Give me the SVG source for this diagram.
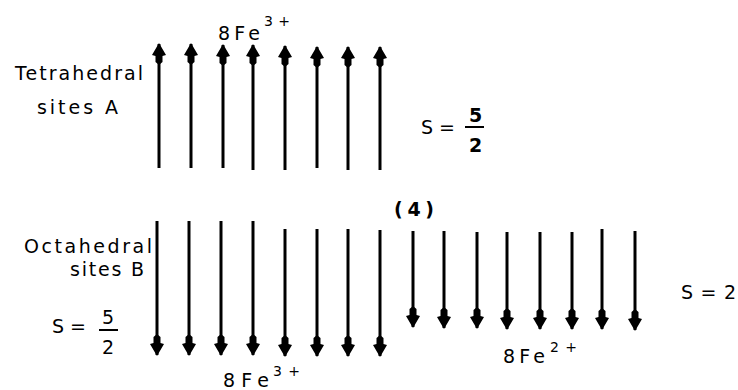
<svg xmlns="http://www.w3.org/2000/svg" width="738" height="390" viewBox="0 0 738 390">
<style>
text{font-family:"DejaVu Sans","Liberation Sans",sans-serif;fill:#000;font-size:19px}
.sup{font-size:14px}
.shaft{stroke:#000;stroke-width:3;fill:none}
.frac{stroke:#000;stroke-width:2}
</style>
<defs>
<marker id="head" markerUnits="userSpaceOnUse" markerWidth="22" markerHeight="16" viewBox="0 0 22 16" refX="21" refY="8" orient="auto">
<path d="M22 8 L10 1 L9 4.5 L3 4.5 L0 8 L3 11.5 L9 11.5 L10 15 Z" fill="#000"/>
</marker>
</defs>
<rect width="738" height="390" fill="#fff"/>
<g id="connectors">
<g id="tetra-arrows">
<line class="shaft" x1="159" y1="168" x2="159" y2="44" marker-end="url(#head)"/>
<line class="shaft" x1="191" y1="168" x2="191" y2="44" marker-end="url(#head)"/>
<line class="shaft" x1="223" y1="168" x2="223" y2="45" marker-end="url(#head)"/>
<line class="shaft" x1="253" y1="170" x2="253" y2="45" marker-end="url(#head)"/>
<line class="shaft" x1="285" y1="170" x2="285" y2="46" marker-end="url(#head)"/>
<line class="shaft" x1="317" y1="168" x2="317" y2="47" marker-end="url(#head)"/>
<line class="shaft" x1="348" y1="170" x2="348" y2="47" marker-end="url(#head)"/>
<line class="shaft" x1="380" y1="170" x2="380" y2="47" marker-end="url(#head)"/>
</g>
<g id="octa-fe3-arrows">
<line class="shaft" x1="157" y1="221" x2="157" y2="355" marker-end="url(#head)"/>
<line class="shaft" x1="189" y1="221" x2="189" y2="355" marker-end="url(#head)"/>
<line class="shaft" x1="221" y1="221" x2="221" y2="355" marker-end="url(#head)"/>
<line class="shaft" x1="253" y1="221" x2="253" y2="355" marker-end="url(#head)"/>
<line class="shaft" x1="285" y1="229" x2="285" y2="356" marker-end="url(#head)"/>
<line class="shaft" x1="317" y1="229" x2="317" y2="356" marker-end="url(#head)"/>
<line class="shaft" x1="348" y1="229" x2="348" y2="356" marker-end="url(#head)"/>
<line class="shaft" x1="380" y1="230" x2="380" y2="356" marker-end="url(#head)"/>
</g>
<g id="octa-fe2-arrows">
<line class="shaft" x1="413" y1="231" x2="413" y2="327" marker-end="url(#head)"/>
<line class="shaft" x1="444" y1="231" x2="444" y2="328" marker-end="url(#head)"/>
<line class="shaft" x1="477" y1="232" x2="477" y2="328" marker-end="url(#head)"/>
<line class="shaft" x1="507" y1="232" x2="507" y2="329" marker-end="url(#head)"/>
<line class="shaft" x1="540" y1="232" x2="540" y2="329" marker-end="url(#head)"/>
<line class="shaft" x1="572" y1="232" x2="572" y2="329" marker-end="url(#head)"/>
<line class="shaft" x1="602" y1="229" x2="602" y2="329" marker-end="url(#head)"/>
<line class="shaft" x1="635" y1="231" x2="635" y2="330" marker-end="url(#head)"/>
</g>
</g>
<g id="label-top-fe3">
<text x="218" y="40" textLength="42" lengthAdjust="spacing">8Fe</text>
<text class="sup" x="264" y="26" textLength="26" lengthAdjust="spacing">3+</text>
</g>
<g id="label-tetra">
<text x="15" y="80" textLength="128" lengthAdjust="spacing">Tetrahedral</text>
<text x="37" y="114" textLength="81" lengthAdjust="spacing">sites A</text>
</g>
<g id="label-spin-a">
<text x="421" y="134">S =</text>
<text x="469" y="122" font-weight="bold">5</text>
<line class="frac" x1="465" y1="127" x2="484" y2="127"/>
<text x="469" y="152" font-weight="bold">2</text>
</g>
<g id="label-4">
<text x="394" y="216" textLength="40" lengthAdjust="spacing" font-weight="bold">(4)</text>
</g>
<g id="label-octa">
<text x="24" y="253" textLength="128" lengthAdjust="spacing">Octahedral</text>
<text x="70" y="276" textLength="74" lengthAdjust="spacing">sites B</text>
</g>
<g id="label-spin-b">
<text x="52" y="333">S =</text>
<text x="102" y="324">5</text>
<line class="frac" x1="99" y1="330" x2="118" y2="330"/>
<text x="102" y="354">2</text>
</g>
<g id="label-bottom-fe3">
<text x="223" y="387" textLength="46" lengthAdjust="spacing">8Fe</text>
<text class="sup" x="273" y="376" textLength="27" lengthAdjust="spacing">3+</text>
</g>
<g id="label-fe2">
<text x="503" y="363" textLength="42" lengthAdjust="spacing">8Fe</text>
<text class="sup" x="550" y="352" textLength="27" lengthAdjust="spacing">2+</text>
</g>
<g id="label-spin-2">
<text x="681" y="299" textLength="55" lengthAdjust="spacing">S = 2</text>
</g>
</svg>
